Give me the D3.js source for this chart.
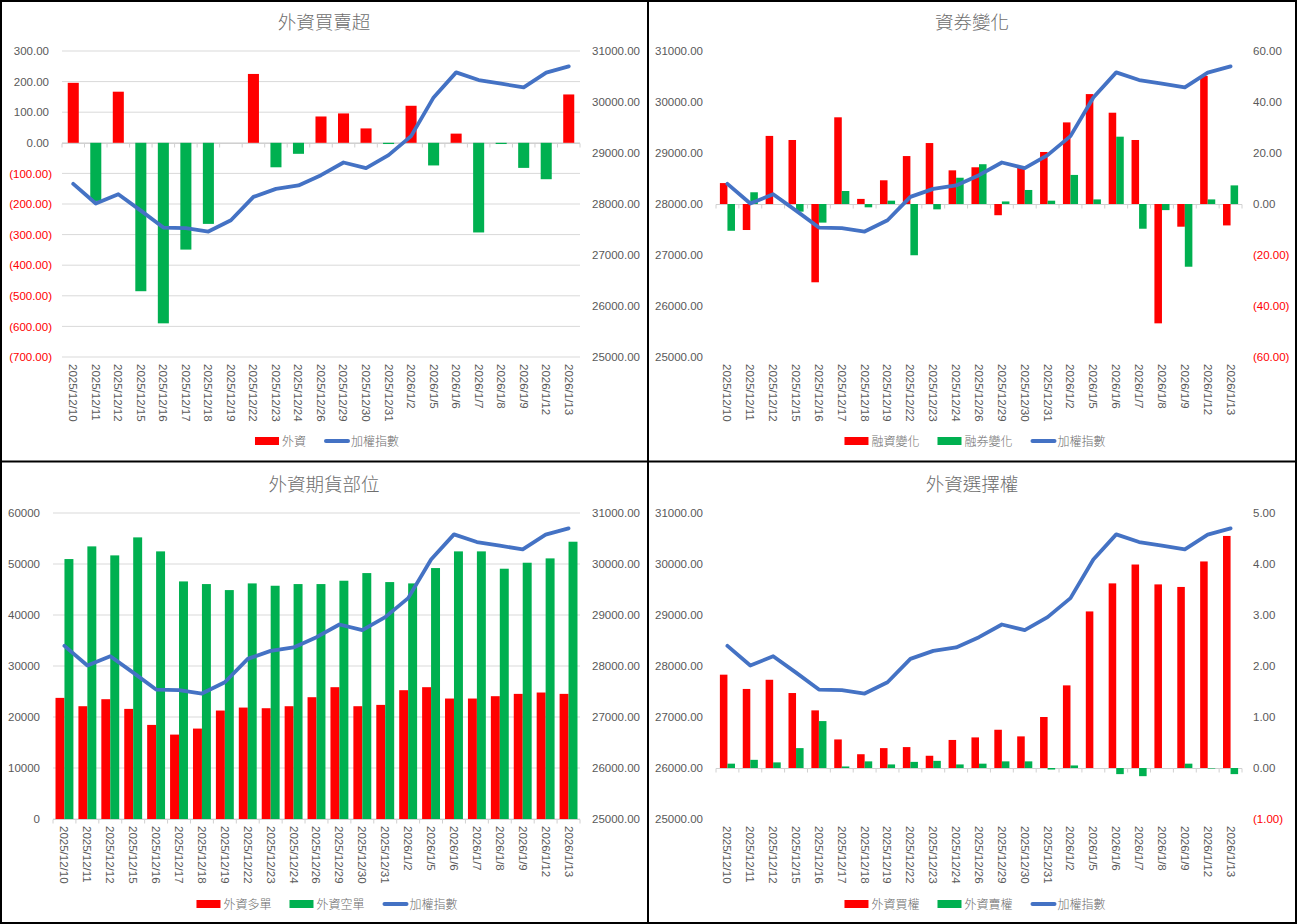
<!DOCTYPE html>
<html>
<head>
<meta charset="utf-8">
<script src="https://cdn.jsdelivr.net/npm/d3@7"></script>
<style>
  body { margin: 0; background: #fff; }
  svg { display: block; }
  text { font-family: "Liberation Sans", Arial, sans-serif; }
  .cjk { font-family: "Noto Sans CJK TC", "Noto Sans CJK SC", sans-serif; }
</style>
</head>
<body>
<svg id="chart" width="1297" height="924"></svg>
<script>
// ─── DATA ─────────────────────────────────────────────────────────────────────

const dates = [
  "2025/12/10", "2025/12/11", "2025/12/12", "2025/12/15", "2025/12/16", "2025/12/17",
  "2025/12/18", "2025/12/19", "2025/12/22", "2025/12/23", "2025/12/24", "2025/12/26",
  "2025/12/29", "2025/12/30", "2025/12/31", "2026/1/2", "2026/1/5", "2026/1/6",
  "2026/1/7", "2026/1/8", "2026/1/9", "2026/1/12", "2026/1/13"
];

// 加權指數
const taiex = [
  28395, 28009, 28192, 27870, 27538, 27525, 27460, 27682, 28140, 28297, 28363, 28565,
  28814, 28703, 28958, 29331, 30090, 30581, 30431, 30359, 30287, 30575, 30699
];

// 外資買賣超 (億)
const foreignNet = [
  196, -190, 167, -485, -590, -349, -265, 0, 225, -80, -36, 86,
  96, 47, -4, 121, -74, 30, -293, -4, -82, -119, 158
];

// 融資變化 / 融券變化
const marginChg = [
  8.2, -10.2, 26.7, 25.1, -30.7, 34.0, 2.0, 9.3, 18.8, 23.9, 13.2, 14.4,
  -4.4, 14.6, 20.4, 32.0, 43.1, 35.8, 25.1, -46.8, -8.9, 50.2, -8.4
];
const shortChg = [
  -10.5, 4.6, 0, -3.0, -7.3, 5.1, -1.3, 1.3, -20.1, -2.1, 10.3, 15.6,
  1.0, 5.5, 1.3, 11.4, 1.8, 26.4, -9.7, -2.4, -24.6, 1.8, 7.3
];

// 外資多單 / 外資空單
const futLong = [
  23750, 22115, 23490, 21590, 18450, 16550, 17730, 21265, 21850, 21720, 22115, 23880,
  25845, 22115, 22375, 25255, 25845, 23620, 23620, 24080, 24535, 24800, 24535
];
const futShort = [
  50970, 53455, 51690, 55220, 52475, 46585, 46065, 44885, 46195, 45735, 46065, 46065,
  46720, 48220, 46455, 46195, 49205, 52475, 52475, 49075, 50250, 51100, 54370
];

// 外資買權 / 外資賣權
const optCall = [
  1.83, 1.55, 1.73, 1.47, 1.13, 0.56, 0.27, 0.39, 0.41, 0.24, 0.55, 0.60,
  0.75, 0.62, 1.00, 1.62, 3.07, 3.62, 3.99, 3.60, 3.55, 4.05, 4.55
];
const optPut = [
  0.085, 0.16, 0.11, 0.39, 0.92, 0.03, 0.13, 0.07, 0.12, 0.14, 0.07, 0.085,
  0.13, 0.13, -0.03, 0.05, 0, -0.12, -0.16, 0, 0.085, -0.01, -0.12
];

const indexTicks = [25000, 26000, 27000, 28000, 29000, 30000, 31000];

// ─── STYLE ────────────────────────────────────────────────────────────────────

const RED = "#FF0000";
const GREEN = "#00B050";
const BLUE = "#4472C4";
const GREY_TEXT = "#595959";
const GREY_LIGHT = "#6E6E6E";
const GRID = "#D9D9D9";

const fmtAcct = d => {
  const s = Math.abs(d).toFixed(2);
  return d < 0 ? `(${s})` : s;
};
const fmtInt = d3.format("d");

const svg = d3.select("#chart");

// ─── PANEL ────────────────────────────────────────────────────────────────────

function drawPanel(cfg) {
  const g = svg.append("g");
  const { left, right, top, bottom } = cfg;

  const x = d3.scaleBand().domain(dates).range([left, right]);
  const yBar = d3.scaleLinear().domain(cfg.barDomain).range([bottom, top]);
  const yIdx = d3.scaleLinear().domain([25000, 31000]).range([bottom, top]);

  // gridlines
  if (cfg.grid) {
    g.append("g").selectAll("line")
      .data(cfg.barTicks)
      .join("line")
      .attr("x1", left).attr("x2", right)
      .attr("y1", d => yBar(d)).attr("y2", d => yBar(d))
      .attr("stroke", GRID).attr("stroke-width", 1);
  }

  // category axis at zero with boundary ticks
  const y0 = Math.round(yBar(0)) + 0.5;
  const axis = g.append("g").attr("stroke", "#D0D0D0").attr("stroke-width", 1);
  axis.append("line").attr("x1", left).attr("x2", right).attr("y1", y0).attr("y2", y0);
  axis.selectAll("line.tk")
    .data(dates.map(d => x(d)).concat([right]))
    .join("line").attr("class", "tk")
    .attr("x1", d => d).attr("x2", d => d)
    .attr("y1", y0).attr("y2", y0 + 4);

  // bars
  const keys = cfg.series.map(s => s.key);
  const sub = d3.scaleBand().domain(keys).range([0, x.bandwidth()])
    .paddingInner(0).paddingOuter(cfg.outerPad);

  cfg.series.forEach(s => {
    g.append("g").selectAll("rect")
      .data(s.values.map((v, i) => ({ date: dates[i], v })))
      .join("rect")
      .attr("x", d => x(d.date) + sub(s.key))
      .attr("width", sub.bandwidth())
      .attr("y", d => yBar(Math.max(0, d.v)))
      .attr("height", d => Math.abs(yBar(d.v) - yBar(0)))
      .attr("fill", d => s.signColor ? (d.v < 0 ? GREEN : RED) : s.color);
  });

  // index line
  const line = d3.line()
    .x((d, i) => x(dates[i]) + x.bandwidth() / 2)
    .y(d => yIdx(d));

  g.append("path")
    .datum(taiex)
    .attr("d", line)
    .attr("fill", "none")
    .attr("stroke", BLUE)
    .attr("stroke-width", 3.8)
    .attr("stroke-linejoin", "round")
    .attr("stroke-linecap", "round");

  // value axes
  const barAxisIsLeft = cfg.barSide === "left";
  const leftScale = barAxisIsLeft ? yBar : yIdx;
  const rightScale = barAxisIsLeft ? yIdx : yBar;
  const leftTicks = barAxisIsLeft ? cfg.barTicks : indexTicks;
  const rightTicks = barAxisIsLeft ? indexTicks : cfg.barTicks;
  const leftFmt = barAxisIsLeft ? cfg.barFmt : d => d.toFixed(2);
  const rightFmt = barAxisIsLeft ? d => d.toFixed(2) : cfg.barFmt;

  const styleAxis = (sel, isLeft) => {
    sel.select(".domain").remove();
    sel.selectAll("text")
      .attr("font-size", 11.5)
      .attr("fill", d => d < 0 ? RED : GREY_TEXT)
      .attr("dx", d => (isLeft && d >= 0 && cfg.barFmt === fmtAcct && barAxisIsLeft) ? -3 : 0);
  };

  g.append("g")
    .attr("transform", `translate(${cfg.leftLabel},0)`)
    .call(d3.axisLeft(leftScale).tickValues(leftTicks).tickSize(0).tickPadding(0).tickFormat(leftFmt))
    .call(sel => styleAxis(sel, true));

  g.append("g")
    .attr("transform", `translate(${cfg.rightLabel},0)`)
    .call(d3.axisRight(rightScale).tickValues(rightTicks).tickSize(0).tickPadding(0).tickFormat(rightFmt))
    .call(sel => styleAxis(sel, false));

  // category labels, rotated to read top-to-bottom
  g.append("g").selectAll("text")
    .data(dates)
    .join("text")
    .attr("transform", d => `translate(${x(d) + x.bandwidth() / 2},${bottom + 7}) rotate(90)`)
    .attr("dy", "0.35em")
    .attr("font-size", 11.5)
    .attr("fill", GREY_TEXT)
    .text(d => d);

  // title
  g.append("text")
    .attr("class", "cjk")
    .attr("x", cfg.center).attr("y", cfg.titleY)
    .attr("text-anchor", "middle")
    .attr("font-size", 18.5)
    .attr("font-weight", 300)
    .attr("fill", GREY_LIGHT)
    .text(cfg.title);

  // legend
  const legend = g.append("g");
  let cursor = 0;
  cfg.legend.forEach(item => {
    const it = legend.append("g").attr("transform", `translate(${cursor},0)`);
    if (item.type === "line") {
      it.append("line")
        .attr("x1", 2).attr("x2", 24).attr("y1", 0).attr("y2", 0)
        .attr("stroke", item.color).attr("stroke-width", 4).attr("stroke-linecap", "round");
    } else {
      it.append("rect").attr("x", 0).attr("y", -4).attr("width", 24).attr("height", 8)
        .attr("fill", item.color);
    }
    const t = it.append("text")
      .attr("class", "cjk")
      .attr("x", 27).attr("y", 4.5)
      .attr("font-size", 12)
      .attr("font-weight", 300)
      .attr("fill", GREY_LIGHT)
      .text(item.label);
    cursor += 27 + t.node().getComputedTextLength() + 18;
  });
  const legendWidth = cursor - 18;
  legend.attr("transform", `translate(${cfg.center + 3 - legendWidth / 2},${cfg.legendY})`);
}

// ─── PANELS ───────────────────────────────────────────────────────────────────

const legendIndex = { type: "line", label: "加權指數", color: BLUE };

drawPanel({
  title: "外資買賣超",
  left: 62, right: 580, top: 51, bottom: 357,
  leftLabel: 52, rightLabel: 592, center: 324, titleY: 29, legendY: 441,
  barSide: "left",
  barDomain: [-700, 300],
  barTicks: d3.range(-700, 301, 100),
  barFmt: fmtAcct,
  grid: true,
  outerPad: 0.52,
  series: [{ key: "net", values: foreignNet, signColor: true }],
  legend: [{ type: "rect", label: "外資", color: RED }, legendIndex]
});

drawPanel({
  title: "資券變化",
  left: 716, right: 1242, top: 51, bottom: 357,
  leftLabel: 703, rightLabel: 1253, center: 972, titleY: 29, legendY: 441,
  barSide: "right",
  barDomain: [-60, 60],
  barTicks: d3.range(-60, 61, 20),
  barFmt: fmtAcct,
  grid: false,
  outerPad: 0.515,
  series: [
    { key: "margin", values: marginChg, color: RED },
    { key: "short", values: shortChg, color: GREEN }
  ],
  legend: [
    { type: "rect", label: "融資變化", color: RED },
    { type: "rect", label: "融券變化", color: GREEN },
    legendIndex
  ]
});

drawPanel({
  title: "外資期貨部位",
  left: 53, right: 580, top: 513, bottom: 819,
  leftLabel: 40, rightLabel: 592, center: 324, titleY: 491, legendY: 904,
  barSide: "left",
  barDomain: [0, 60000],
  barTicks: d3.range(0, 60001, 10000),
  barFmt: fmtInt,
  grid: true,
  outerPad: 0.28,
  series: [
    { key: "long", values: futLong, color: RED },
    { key: "short", values: futShort, color: GREEN }
  ],
  legend: [
    { type: "rect", label: "外資多單", color: RED },
    { type: "rect", label: "外資空單", color: GREEN },
    legendIndex
  ]
});

drawPanel({
  title: "外資選擇權",
  left: 716, right: 1242, top: 513, bottom: 819,
  leftLabel: 703, rightLabel: 1253, center: 972, titleY: 491, legendY: 904,
  barSide: "right",
  barDomain: [-1, 5],
  barTicks: d3.range(-1, 5.01, 1),
  barFmt: fmtAcct,
  grid: false,
  outerPad: 0.515,
  series: [
    { key: "call", values: optCall, color: RED },
    { key: "put", values: optPut, color: GREEN }
  ],
  legend: [
    { type: "rect", label: "外資買權", color: RED },
    { type: "rect", label: "外資賣權", color: GREEN },
    legendIndex
  ]
});

// ─── FRAMES ───────────────────────────────────────────────────────────────────

const frame = svg.append("g").attr("stroke", "#000").attr("stroke-width", 2).attr("fill", "none");
frame.append("rect").attr("x", 1).attr("y", 1).attr("width", 1295).attr("height", 922);
frame.append("line").attr("x1", 648).attr("x2", 648).attr("y1", 0).attr("y2", 924);
frame.append("line").attr("x1", 0).attr("x2", 1297).attr("y1", 461.5).attr("y2", 461.5);
</script>
</body>
</html>
